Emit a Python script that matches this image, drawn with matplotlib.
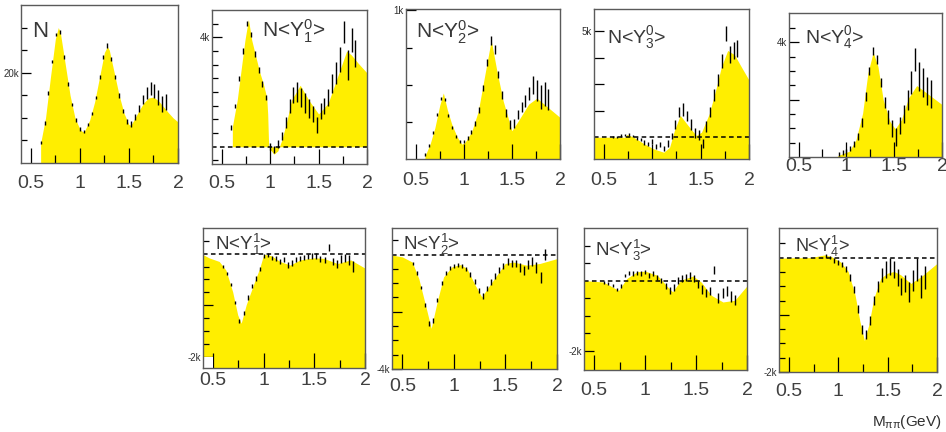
import numpy as np
import matplotlib
matplotlib.use('Agg')
import matplotlib.pyplot as plt
from matplotlib import font_manager
from matplotlib.patches import Rectangle

nan = np.nan

# bin centres of the measured points (GeV)
m_pts = [0.60, 0.64, 0.68, 0.72, 0.76, 0.80, 0.84, 0.88, 0.92, 0.96,
         1.00, 1.04, 1.08, 1.12, 1.16, 1.20, 1.24, 1.28, 1.32, 1.36,
         1.40, 1.44, 1.48, 1.52, 1.56, 1.60, 1.64, 1.68, 1.72, 1.76,
         1.80, 1.84, 1.88]

# N  (units of k)
n_curve_m = [0.60, 0.65, 0.70, 0.75, 0.78, 0.80, 0.85, 0.90, 0.95, 1.00, 1.03, 1.05, 1.10,
             1.15, 1.20, 1.25, 1.28, 1.30, 1.35, 1.40, 1.45, 1.50, 1.52, 1.55, 1.60, 1.65,
             1.70, 1.75, 1.80, 1.85, 1.90, 1.95, 2.00]
n_curve_y = [4.4, 10, 19, 27.5, 30, 29, 22, 15, 10, 7.5, 6.9, 7.2, 9.5,
             13.5, 19, 24.5, 25.8, 25, 20, 15, 11, 8.5, 8.4, 9.5, 11.5, 13.3,
             14.4, 14.6, 13.8, 12.5, 11.2, 10, 9.1]
n_pts = [4.5, 8.9, 15.5, 22.5, 28.5, 29.0, 23.5, 17.5, 13.0, 9.5,
         7.5, 7.0, 8.5, 11.0, 14.5, 19.0, 23.5, 26.0, 23.0, 19.0,
         15.0, 11.5, 9.2, 8.6, 10.2, 12.0, 14.0, 15.5, 16.5, 16.0,
         14.5, 13.0, 13.5]
n_err = [0.4, 0.4, 0.4, 0.4, 0.4, 0.4, 0.4, 0.4, 0.4, 0.4,
         0.4, 0.4, 0.4, 0.4, 0.4, 0.4, 0.5, 0.5, 0.5, 0.5,
         0.5, 0.5, 0.6, 0.6, 0.6, 0.8, 1.0, 1.3, 1.5, 1.6,
         1.7, 1.8, 1.8]

# N<Y1^0>
y10_curve_m = [0.61, 0.66, 0.70, 0.74, 0.776, 0.81, 0.845, 0.89, 0.93, 0.965, 0.975, 0.985, 1.00,
               1.04, 1.08, 1.12, 1.17, 1.22, 1.31, 1.40, 1.50, 1.60, 1.71, 1.79, 1.84, 1.91, 2.00]
y10_curve_y = [0.73, 1.7, 2.8, 3.9, 4.66, 3.9, 3.4, 2.75, 2.3, 1.8, 1.2, 0.0, -0.1,
               -0.27, -0.15, 0.24, 0.9, 1.7, 2.25, 1.7, 1.2, 1.6, 2.7, 3.5, 3.35, 3.05, 2.7]
y10_pts = [0.7, 1.5, 2.5, 3.5, 4.5, 4.1, 3.4, 2.8, 2.3, 1.8,
           0.0, -0.1, 0.1, 0.4, 0.9, 1.5, 1.9, 2.0, 1.8, 1.6,
           1.4, 1.2, 0.8, 1.3, 1.5, 1.8, 2.3, 2.7, 3.2, 4.2,
           3.0, 3.9, 3.4]
y10_err = [0.08, 0.08, 0.08, 0.1, 0.1, 0.1, 0.1, 0.1, 0.1, 0.1,
           0.12, 0.12, 0.15, 0.15, 0.2, 0.25, 0.3, 0.35, 0.35, 0.35,
           0.35, 0.3, 0.3, 0.3, 0.3, 0.3, 0.35, 0.4, 0.45, 0.4,
           0.55, 0.45, 0.5]

# N<Y2^0>
y20_curve_m = [0.597, 0.65, 0.70, 0.75, 0.788, 0.83, 0.875, 0.93, 0.98, 1.01, 1.08,
               1.15, 1.22, 1.285, 1.345, 1.41, 1.50, 1.57, 1.675, 1.76, 1.88, 2.00]
y20_curve_y = [0.02, 0.10, 0.21, 0.36, 0.445, 0.33, 0.235, 0.15, 0.10, 0.11, 0.18,
               0.32, 0.57, 0.80, 0.59, 0.39, 0.19, 0.26, 0.37, 0.41, 0.345, 0.28]
y20_pts = [0.03, 0.09, 0.18, 0.30, 0.41, 0.40, 0.29, 0.21, 0.15, 0.12,
           0.12, 0.14, 0.18, 0.24, 0.33, 0.48, 0.65, 0.80, 0.74, 0.57,
           0.43, 0.31, 0.23, 0.24, 0.30, 0.35, 0.39, 0.44, 0.50, 0.46,
           0.42, 0.44, 0.40]
y20_err = [0.01, 0.01, 0.01, 0.01, 0.01, 0.01, 0.01, 0.01, 0.01, 0.01,
           0.01, 0.015, 0.015, 0.015, 0.02, 0.02, 0.025, 0.03, 0.03, 0.025,
           0.025, 0.025, 0.03, 0.03, 0.03, 0.035, 0.04, 0.045, 0.06, 0.07,
           0.08, 0.08, 0.07]

# N<Y3^0>
y30_curve_m = [0.40, 0.72, 0.74, 0.81, 0.92, 1.02, 1.12, 1.18, 1.23, 1.29,
               1.37, 1.455, 1.51, 1.59, 1.66, 1.715, 1.78, 1.85, 1.92, 2.00]
y30_curve_y = [0.0, 0.0, 0.13, 0.0, -0.32, -0.56, -0.71, -0.48, 0.32, 1.03,
               0.56, 0.08, 0.24, 1.11, 2.3, 3.33, 4.1, 3.9, 3.33, 2.7]
y30_pts = [0.02, 0.03, 0.08, 0.10, 0.13, 0.05, -0.05, -0.12, -0.25, -0.32,
           -0.20, -0.45, -0.35, -0.55, -0.30, 0.05, 0.60, 1.20, 1.30, 1.00,
           0.60, 0.20, 0.10, -0.30, 0.50, 1.20, 2.00, 2.70, 3.60, 4.90,
           3.90, 4.10, 4.20]
y30_err = [0.05, 0.05, 0.05, 0.05, 0.05, 0.05, 0.06, 0.08, 0.1, 0.1,
           0.1, 0.12, 0.12, 0.12, 0.15, 0.15, 0.2, 0.25, 0.3, 0.25,
           0.25, 0.25, 0.25, 0.2, 0.25, 0.25, 0.3, 0.3, 0.35, 0.35,
           0.4, 0.4, 0.4]

# N<Y4^0>
y40_curve_m = [0.91, 1.03, 1.10, 1.17, 1.225, 1.28, 1.33, 1.385, 1.455, 1.51,
               1.575, 1.65, 1.735, 1.84, 2.00]
y40_curve_y = [0.05, 0.2, 0.6, 1.53, 2.93, 3.65, 3.16, 2.0, 1.24, 0.98,
               1.3, 2.06, 2.49, 2.23, 1.83]
y40_pts = [nan, nan, nan, nan, nan, nan, nan, nan, 0.10, 0.15,
           0.20, 0.30, 0.45, 0.70, 1.20, 2.10, 3.00, 3.70, 3.40, 2.60,
           1.90, 1.40, 1.00, 0.70, 1.10, 1.50, 2.00, 2.60, 3.40, 2.80,
           2.60, 2.30, 2.20]
y40_err = [nan, nan, nan, nan, nan, nan, nan, nan, 0.08, 0.08,
           0.08, 0.1, 0.1, 0.12, 0.15, 0.15, 0.15, 0.15, 0.15, 0.15,
           0.2, 0.25, 0.3, 0.3, 0.3, 0.3, 0.35, 0.4, 0.4, 0.5,
           0.5, 0.5, 0.5]

# N<Y1^1>
y11_curve_m = [0.393, 0.46, 0.56, 0.627, 0.693, 0.743, 0.777, 0.827, 0.91, 0.96,
               1.00, 1.077, 1.16, 1.26, 1.36, 1.493, 1.593, 1.727, 1.86, 2.00]
y11_curve_y = [-0.01, -0.08, -0.15, -0.32, -0.74, -1.19, -1.35, -0.99, -0.54, -0.28,
               -0.01, -0.04, -0.15, -0.22, -0.12, -0.08, -0.09, -0.19, -0.12, -0.28]
y11_pts = [-0.25, -0.38, -0.60, -0.95, -1.30, -1.15, -0.85, -0.62, -0.48, -0.30,
           -0.05, -0.03, -0.08, -0.10, -0.15, -0.12, -0.22, -0.18, -0.12, -0.10,
           -0.08, -0.06, -0.05, -0.05, -0.10, -0.12, 0.12, -0.15, -0.20, -0.10,
           -0.08, -0.12, -0.25]
y11_err = [0.03, 0.03, 0.03, 0.03, 0.04, 0.04, 0.04, 0.04, 0.04, 0.04,
           0.04, 0.04, 0.04, 0.05, 0.05, 0.05, 0.05, 0.05, 0.05, 0.05,
           0.05, 0.05, 0.06, 0.06, 0.06, 0.06, 0.06, 0.07, 0.07, 0.08,
           0.08, 0.09, 0.1]

# N<Y2^1>
y21_curve_m = [0.404, 0.50, 0.596, 0.66, 0.725, 0.78, 0.838, 0.90, 0.98, 1.063,
               1.127, 1.207, 1.27, 1.336, 1.416, 1.497, 1.577, 1.706, 1.834, 2.00]
y21_curve_y = [-0.02, -0.08, -0.26, -0.84, -1.77, -2.58, -1.65, -0.78, -0.43, -0.35,
               -0.49, -1.07, -1.48, -1.13, -0.72, -0.31, -0.26, -0.37, -0.31, -0.14]
y21_pts = [-0.30, -0.65, -1.15, -1.75, -2.40, -2.30, -1.60, -1.00, -0.65, -0.48,
           -0.40, -0.35, -0.40, -0.50, -0.70, -0.95, -1.25, -1.45, -1.20, -0.95,
           -0.75, -0.55, -0.40, -0.25, -0.30, -0.30, -0.45, -0.55, -0.35, -0.25,
           -0.45, -0.80, 0.00]
y21_err = [0.05, 0.06, 0.06, 0.07, 0.08, 0.08, 0.07, 0.07, 0.07, 0.07,
           0.07, 0.07, 0.07, 0.08, 0.08, 0.08, 0.08, 0.09, 0.09, 0.1,
           0.1, 0.1, 0.1, 0.12, 0.12, 0.12, 0.15, 0.15, 0.15, 0.15,
           0.2, 0.2, 0.2]

# N<Y3^1>
y31_curve_m = [0.40, 0.59, 0.74, 0.82, 0.92, 1.00, 1.12, 1.22, 1.27, 1.35,
               1.47, 1.55, 1.65, 1.764, 1.88, 2.00]
y31_curve_y = [0.0, -0.04, -0.28, 0.06, 0.25, 0.27, 0.15, -0.18, -0.32, 0.01,
               0.13, -0.04, -0.42, -0.61, -0.56, -0.15]
y31_pts = [-0.05, -0.08, -0.15, -0.25, -0.15, 0.15, 0.22, 0.20, 0.22, 0.20,
           0.25, 0.15, 0.20, 0.10, 0.00, -0.15, -0.28, -0.20, 0.00, 0.05,
           0.10, 0.15, 0.05, -0.10, -0.25, -0.35, -0.30, 0.30, -0.50, -0.35,
           -0.30, -0.45, -0.55]
y31_err = [0.04, 0.04, 0.04, 0.05, 0.05, 0.05, 0.06, 0.06, 0.06, 0.06,
           0.06, 0.07, 0.07, 0.07, 0.08, 0.08, 0.09, 0.09, 0.09, 0.1,
           0.1, 0.1, 0.1, 0.1, 0.12, 0.12, 0.12, 0.12, 0.15, 0.15,
           0.15, 0.15, 0.15]

# N<Y4^1>
y41_curve_m = [0.398, 0.54, 0.71, 0.865, 0.93, 1.02, 1.10, 1.17, 1.22, 1.265,
               1.31, 1.36, 1.43, 1.50, 1.565, 1.633, 1.735, 1.84, 2.00]
y41_curve_y = [-0.01, 0.0, 0.0, 0.05, 0.02, -0.07, -0.24, -0.65, -1.12, -1.45,
               -1.17, -0.71, -0.36, -0.27, -0.24, -0.30, -0.45, -0.33, -0.10]
y41_pts = [nan, nan, nan, nan, nan, nan, nan, 0.03, 0.00, -0.05,
           -0.08, -0.12, -0.20, -0.35, -0.55, -0.90, -1.25, -1.35, -1.10, -0.75,
           -0.50, -0.30, -0.20, -0.15, -0.20, -0.35, -0.50, -0.45, -0.60, -0.40,
           -0.20, -0.50, -0.35]
y41_err = [nan, nan, nan, nan, nan, nan, nan, 0.03, 0.03, 0.04,
           0.04, 0.05, 0.05, 0.06, 0.06, 0.07, 0.08, 0.08, 0.08, 0.08,
           0.1, 0.12, 0.15, 0.15, 0.15, 0.15, 0.15, 0.15, 0.18, 0.18,
           0.2, 0.2, 0.2]

x_ticks = [0.5, 1.0, 1.5, 2.0]
x_tick_labels = ['0.5', '1', '1.5', '2']
x_minor = [0.75, 1.25, 1.75]

names = {f.name for f in font_manager.fontManager.ttflist}
txt_font = 'Liberation Sans Narrow' if 'Liberation Sans Narrow' in names else 'Liberation Sans'
plt.rcParams['font.family'] = [txt_font, 'DejaVu Sans']
plt.rcParams['mathtext.fontset'] = 'custom'
plt.rcParams['mathtext.rm'] = txt_font
plt.rcParams['mathtext.it'] = txt_font

YELLOW = '#FFEE00'
W, H = 946, 432

# title, curve, points, frame (l, r, t, b px), ylim, y ticks, major y ticks, labels,
# dashed zero line, fill base, title baseline pos (axes), title size, x label pad
panels = [
    ('N', n_curve_m, n_curve_y, n_pts, n_err, (21, 178, 5, 163), (0, 35),
     [5, 10, 15, 25, 30], [20], {20: '20k'}, False, 0, (0.07, 0.80), 16, 8.6),
    (r'N<$\mathregular{Y_1^0}$>', y10_curve_m, y10_curve_y, y10_pts, y10_err,
     (212, 367, 10, 164), (-0.63, 5.0),
     [-0.5, 0.5, 1.0, 1.5, 2.0, 2.5, 3.0, 3.5, 4.5], [4], {4: '4k'}, True, 0,
     (0.32, 0.823), 15, 7.9),
    (r'N<$\mathregular{Y_2^0}$>', y20_curve_m, y20_curve_y, y20_pts, y20_err,
     (406, 560, 9, 159), (0, 1.01),
     [0.25, 0.5, 0.75], [1.0], {1.0: '1k'}, False, 0, (0.065, 0.805), 15, 9.1),
    (r'N<$\mathregular{Y_3^0}$>', y30_curve_m, y30_curve_y, y30_pts, y30_err,
     (594, 749, 9, 159), (-1.03, 6.06),
     [], [1.25, 2.5, 3.75, 5.0], {5.0: '5k'}, True, -1.03, (0.084, 0.771), 14, 9.1),
    (r'N<$\mathregular{Y_4^0}$>', y40_curve_m, y40_curve_y, y40_pts, y40_err,
     (789, 942, 13, 157), (0, 5.02),
     [0.5, 1.0, 1.5, 2.5, 3.0, 3.5, 4.5], [2.0, 4.0], {4.0: '4k'}, False, 0,
     (0.105, 0.794), 14, 1.0),
    (r'N<$\mathregular{Y_1^1}$>', y11_curve_m, y11_curve_y, y11_pts, y11_err,
     (203, 365, 228, 368), (-2.22, 0.5),
     [-1.75, -1.5, -1.25, -0.75, -0.5, -0.25, 0.25], [-2.0, -1.0], {-2.0: '-2k'}, True, -2.22,
     (0.074, 0.843), 13.5, 2.7),
    (r'N<$\mathregular{Y_2^1}$>', y21_curve_m, y21_curve_y, y21_pts, y21_err,
     (392, 557, 228, 369), (-4.0, 0.93),
     [-3.5, -3.0, -2.5, -1.5, -1.0, -0.5, 0.5], [-4.0, -2.0], {-4.0: '-4k'}, True, -4.0,
     (0.067, 0.844), 13.5, 6.5),
    (r'N<$\mathregular{Y_3^1}$>', y31_curve_m, y31_curve_y, y31_pts, y31_err,
     (584, 747, 228, 370), (-2.55, 1.5),
     [-1.5, -1.0, -0.5, 0.5, 1.0], [-2.0], {-2.0: '-2k'}, True, -2.55,
     (0.067, 0.80), 13.5, 8.4),
    (r'N<$\mathregular{Y_4^1}$>', y41_curve_m, y41_curve_y, y41_pts, y41_err,
     (779, 937, 228, 372), (-2.0, 0.52),
     [-1.75, -1.5, -1.25, -0.75, -0.5, -0.25, 0.25], [-2.0, -1.0], {-2.0: '-2k'}, True, -2.0,
     (0.10, 0.835), 13, 7.9),
]

fig = plt.figure(figsize=(W / 100, H / 100), dpi=100)

for (title, cm, cy, pts, err, (l, r, t, b), ylim, minor_y, major_y, ylabels,
     dashed, base, (tx, ty), tsize, xpad) in panels:
    ax = fig.add_axes([l / W, 1 - b / H, (r - l) / W, (b - t) / H])
    ax.fill_between(cm, base, cy, color=YELLOW, lw=0, zorder=1)
    ax.errorbar(m_pts, pts, yerr=err, fmt='none', ecolor='black', elinewidth=1.0,
                capsize=0, zorder=3)
    if dashed:
        ax.axhline(0, color='black', lw=1.1, ls=(0, (3, 2.2)), zorder=2)
    ax.set_xlim(0.4, 2.0)
    ax.set_ylim(*ylim)

    ax.set_xticks(x_ticks)
    ax.set_xticklabels(x_tick_labels)
    ax.set_xticks(x_minor, minor=True)
    ax.tick_params(axis='x', which='major', direction='in', length=11, width=0.9,
                   pad=xpad, labelsize=14, labelcolor='#404040', color='black')
    ax.tick_params(axis='x', which='minor', direction='in', length=6, width=0.9,
                   color='black')

    ax.set_yticks(major_y)
    ax.set_yticklabels([ylabels.get(v, '') for v in major_y])
    ax.set_yticks(minor_y, minor=True)
    ax.tick_params(axis='y', which='major', direction='in', length=7, width=0.9,
                   pad=1.5, labelsize=7, labelcolor='#303030', color='black')
    ax.tick_params(axis='y', which='minor', direction='in', length=4, width=0.9,
                   color='black')

    for sp in ax.spines.values():
        sp.set_color('#5a5a5a')
        sp.set_linewidth(1.0)

    ax.text(tx, ty, title, transform=ax.transAxes, ha='left', va='baseline',
            fontsize=tsize, color='#383838', zorder=4)

    if title == r'N<$\mathregular{Y_1^1}$>':
        ax.add_patch(Rectangle((0.006, 0.0), 0.056, 0.08, transform=ax.transAxes,
                               facecolor='white', edgecolor='none', zorder=2))

fig.text(907 / W, 1 - 422 / H, r'M$_{\mathregular{\pi\pi}}$(GeV)', ha='center', va='center',
         fontsize=11, color='#303030')

fig.savefig('out.png', dpi=100)
